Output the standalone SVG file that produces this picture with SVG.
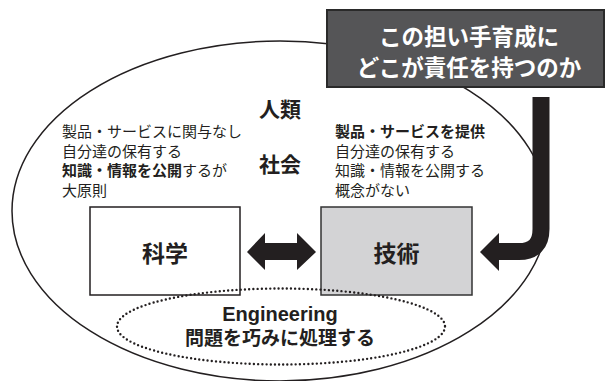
<svg xmlns="http://www.w3.org/2000/svg" width="606" height="381" viewBox="0 0 606 381">
<style>
.jp{font-family:"Noto Sans CJK JP","Noto Sans CJK SC",sans-serif;fill:#231f20}
.b{font-weight:bold}
.t{font-size:15px}
.c{text-anchor:middle}
.w{fill:#fff}
</style>
<rect width="606" height="381" fill="#fff"/>
<g id="society">
<ellipse cx="280" cy="211" rx="268" ry="170" fill="#fff" stroke="#231f20" stroke-width="1.5"/>
<text class="jp b c" x="280" y="117" font-size="21">人類</text>
<text class="jp b c" x="280" y="172" font-size="21">社会</text>
</g>
<g id="science-note">
<text class="jp t" x="62" y="137">製品・サービスに関与なし</text>
<text class="jp t" x="62" y="156.5">自分達の保有する</text>
<text class="jp t" x="62" y="176"><tspan class="b">知識・情報を公開</tspan>するが</text>
<text class="jp t" x="62" y="195.5">大原則</text>
</g>
<g id="tech-note">
<text class="jp t b" x="335" y="137">製品・サービスを提供</text>
<text class="jp t" x="335" y="156.5">自分達の保有する</text>
<text class="jp t" x="335" y="176">知識・情報を公開する</text>
<text class="jp t" x="335" y="195.5">概念がない</text>
</g>
<g id="science">
<rect x="90" y="207" width="150" height="88" fill="#fff" stroke="#231f20" stroke-width="1.5"/>
<text class="jp b c" x="165" y="262" font-size="23">科学</text>
</g>
<g id="technology">
<rect x="321" y="207" width="151" height="88" fill="#d3d3d5" stroke="#333" stroke-width="1.5"/>
<text class="jp b c" x="396.5" y="262" font-size="23">技術</text>
</g>
<g id="engineering">
<ellipse cx="281" cy="326.5" rx="164" ry="38" fill="none" stroke="#231f20" stroke-width="2.4" stroke-linecap="round" stroke-dasharray="0 4.2"/>
<text class="c" x="280" y="321" font-family="'Liberation Sans',Arial,sans-serif" font-weight="bold" font-size="20" fill="#231f20">Engineering</text>
<text class="jp b c" x="280" y="345" font-size="19">問題を巧みに処理する</text>
</g>
<g id="question">
<rect x="327" y="10" width="277" height="77" fill="#555557" stroke="#2a2a2a" stroke-width="2"/>
<text class="jp b c w" x="469" y="45" font-size="22.5">この担い手育成に</text>
<text class="jp b c w" x="469" y="76" font-size="22.5">どこが責任を持つのか</text>
</g>
<g id="connectors">
<polygon points="247,252 265,233 265,243 297,243 297,233 316,252 297,270 297,260 265,260 265,270" fill="#231f20"/>
<path d="M541,97 V229 Q541,251.5 519,251.5 H496" fill="none" stroke="#231f20" stroke-width="17"/>
<polygon points="480,252 499,233 499,271" fill="#231f20"/>
</g>
</svg>
